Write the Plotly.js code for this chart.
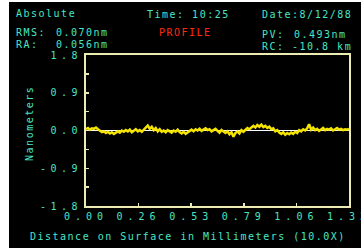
<!DOCTYPE html>
<html>
<head>
<meta charset="utf-8">
<script src="https://cdn.plot.ly/plotly-3.0.1.min.js"></script>
<style>
  html, body { margin: 0; padding: 0; background: #ffffff; width: 361px; height: 248px; overflow: hidden; }
  #chart { position: absolute; left: 9px; top: 2px; width: 352px; height: 246px; }
  .annotation-text { letter-spacing: 1.5px; }
  #chart .xtick text { letter-spacing: 5px; }
  #chart .ytick text { letter-spacing: 4.5px; }
</style>
</head>
<body>
<div id="chart"></div>
<script>
// Profile heights (nm) sampled every 0.01 mm from 0.00 to 1.32 mm
const profileHeights = [
  0.03, 0.06, 0.02, 0.05, 0.04, 0.07, 0.03, -0.01, -0.04, -0.02,
  -0.06, -0.03, -0.07, -0.04, -0.08, -0.05, -0.02, -0.05, 0.00, -0.03,
  0.01, -0.02, 0.02, -0.04, -0.01, 0.03, -0.02, 0.01, -0.03, 0.02,
  0.05, 0.12, 0.04, 0.09, 0.01, 0.06, -0.02, 0.03, -0.03, 0.00,
  -0.04, 0.01, -0.02, -0.05, 0.00, -0.03, 0.02, -0.04, -0.07, -0.03,
  -0.08, -0.04, -0.01, 0.02, -0.02, 0.03, 0.00, 0.04, -0.01, 0.02,
  0.05, 0.01, 0.03, -0.02, 0.02, 0.04, -0.01, -0.05, 0.01, -0.03,
  -0.06, -0.02, -0.09, -0.04, -0.15, -0.06, -0.02, -0.07, 0.01, -0.03,
  0.02, 0.06, 0.03, 0.08, 0.11, 0.07, 0.13, 0.09, 0.14, 0.08,
  0.11, 0.06, 0.09, 0.03, 0.05, -0.02, 0.01, -0.05, -0.08, -0.04,
  -0.10, -0.06, -0.09, -0.05, -0.08, -0.03, -0.06, 0.01, -0.02, 0.03,
  0.00, 0.05, 0.15, 0.02, 0.07, 0.01, 0.04, -0.01, 0.03, 0.06,
  0.01, 0.04, 0.02, 0.05, 0.00, 0.03, 0.06, 0.02, 0.04, 0.01,
  0.03, 0.02, 0.04
];
const sampleStepMm = 0.01;
const profileDistances = profileHeights.map((_, i) => +(i * sampleStepMm).toFixed(2));

const xTickValues = [0, 0.264, 0.528, 0.792, 1.056, 1.32];
const xTickLabels = ['0.00', '0.26', '0.53', '0.79', '1.06', '1.32'];
const yTickValues = [-1.8, -0.9, 0, 0.9, 1.8];
const yTickLabels = ['-1.8', '-0.9', '0.0', '0.9', '1.8'];

const headerLabels = {
  mode: 'Absolute',
  time: 'Time: 10:25',
  date: 'Date:8/12/88',
  rmsLabel: 'RMS:', rmsValue: '0.070nm',
  raLabel: 'RA:', raValue: '0.056nm',
  pvLabel: 'PV:', pvValue: '0.493nm',
  rcLabel: 'RC:', rcValue: '-10.8 km',
  view: 'PROFILE'
};
const xTitle = 'Distance on Surface in Millimeters (10.0X)';
const yTitle = 'Nanometers';

const CYAN = '#48e6c4';
const RED = '#ff2a10';
const FRAME = '#ecebb4';
const FONT = 'DejaVu Sans Mono, monospace';

function ann(text, x, y, color, opts) {
  return Object.assign({
    text: text, x: x, y: y, xref: 'paper', yref: 'paper',
    xanchor: 'left', yanchor: 'middle', showarrow: false,
    font: { family: FONT, size: 10, color: color || CYAN }
  }, opts || {});
}

const annotations = [
  ann(headerLabels.mode, -0.2738, 1.278),
  ann(headerLabels.time, 0.2243, 1.2715),
  ann(headerLabels.date, 0.6616, 1.2715),
  ann(headerLabels.rmsLabel, -0.2738, 1.1523),
  ann(headerLabels.rmsValue, -0.1217, 1.1523),
  ann(headerLabels.raLabel, -0.2738, 1.0728),
  ann(headerLabels.raValue, -0.1217, 1.0728),
  ann(headerLabels.view, 0.27, 1.1457, RED),
  ann(headerLabels.pvLabel, 0.6616, 1.139),
  ann(headerLabels.pvValue, 0.7833, 1.139),
  ann(headerLabels.rcLabel, 0.6616, 1.0596),
  ann(headerLabels.rcValue, 0.7757, 1.0596),
  ann(xTitle, -0.2205, -0.1987),
  ann(yTitle, -0.213, 0.55, CYAN, { xanchor: 'center', textangle: -90 })
];

const trace = {
  x: profileDistances,
  y: profileHeights,
  type: 'scatter',
  mode: 'lines',
  line: { color: '#f5e400', width: 2.5 },
  hoverinfo: 'skip'
};

const layout = {
  width: 352, height: 246,
  margin: { l: 77, r: 12, t: 53, b: 42 },
  paper_bgcolor: '#000000',
  plot_bgcolor: '#000000',
  showlegend: false,
  font: { family: FONT, size: 10, color: CYAN },
  xaxis: {
    range: [0, 1.32],
    tickmode: 'array', tickvals: xTickValues, ticktext: xTickLabels,
    ticks: 'inside', ticklen: 3, tickwidth: 1.5, tickcolor: FRAME,
    showgrid: false, zeroline: false,
    showline: true, mirror: true, linecolor: FRAME, linewidth: 2,
    tickfont: { family: FONT, size: 10, color: CYAN },
    ticklabeloverflow: 'allow',
    fixedrange: true
  },
  yaxis: {
    range: [-1.8, 1.8],
    tickmode: 'array', tickvals: yTickValues, ticktext: yTickLabels,
    ticks: 'inside', ticklen: 3, tickwidth: 1.5, tickcolor: FRAME,
    minor: { dtick: 0.45, ticks: 'inside', ticklen: 3, tickcolor: FRAME, tickwidth: 1.5 },
    showgrid: false,
    zeroline: true, zerolinecolor: '#ffffff', zerolinewidth: 1.5,
    showline: true, mirror: true, linecolor: FRAME, linewidth: 2,
    tickfont: { family: FONT, size: 10, color: CYAN },
    ticklabelstandoff: 0,
    ticklabeloverflow: 'allow',
    fixedrange: true
  },
  annotations: annotations
};

Plotly.newPlot('chart', [trace], layout, { displayModeBar: false, staticPlot: true });
</script>
</body>
</html>
